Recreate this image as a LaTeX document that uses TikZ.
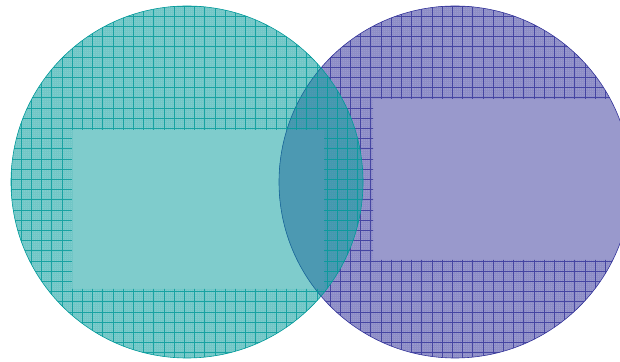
\documentclass[tikz,border=0pt]{standalone}
\definecolor{tealbase}{RGB}{0,153,153}
\definecolor{purpbase}{RGB}{51,51,153}
\definecolor{purplight}{RGB}{153,153,204}
\tikzset{
  majorgrid/.style={line width=0.85pt, draw opacity=0.8},
  minorgrid/.style={line width=0.25pt, draw opacity=0.1},
  rim/.style={line width=0.6pt},
}
\begin{document}
\begin{tikzpicture}[x=1pt,y=1pt]
\useasboundingbox (0,0) rectangle (620,361);
\clip (0,0) rectangle (620,361);
\coordinate (P) at (455,179);
\coordinate (T) at (187,179);
% purple wafer
\fill[purpbase, fill opacity=0.5] (P) circle (176);
\begin{scope}
  \clip (P) circle (176);
  \clip (-20,-20) -- (700,-20) -- (700,381) -- (-20,381) -- cycle
        (373,101) -- (373,262) -- (690,262) -- (690,101) -- cycle;
  \draw[purpbase, minorgrid, shift={(279,355)}, step=2.04] (-300,-400) grid (400,20);
  \draw[purpbase, majorgrid, shift={(279,355)}, step=10.2] (-300,-400) grid (400,20);
\end{scope}
\begin{scope}
  \clip (P) circle (176);
  \fill[purplight] (T) circle (176);
\end{scope}
\draw[purpbase, rim] (P) circle (176);
% teal wafer
\fill[tealbase, fill opacity=0.5] (T) circle (176);
\begin{scope}
  \clip (T) circle (176);
  \clip (-20,-20) -- (700,-20) -- (700,381) -- (-20,381) -- cycle
        (72,72) -- (72,231) -- (324,231) -- (324,72) -- cycle;
  \draw[tealbase, minorgrid, shift={(11,355)}, step=2.04] (-30,-400) grid (400,20);
  \draw[tealbase, majorgrid, shift={(11,355)}, step=10.2] (-30,-400) grid (400,20);
\end{scope}
\draw[tealbase, rim] (T) circle (176);
\end{tikzpicture}
\end{document}
